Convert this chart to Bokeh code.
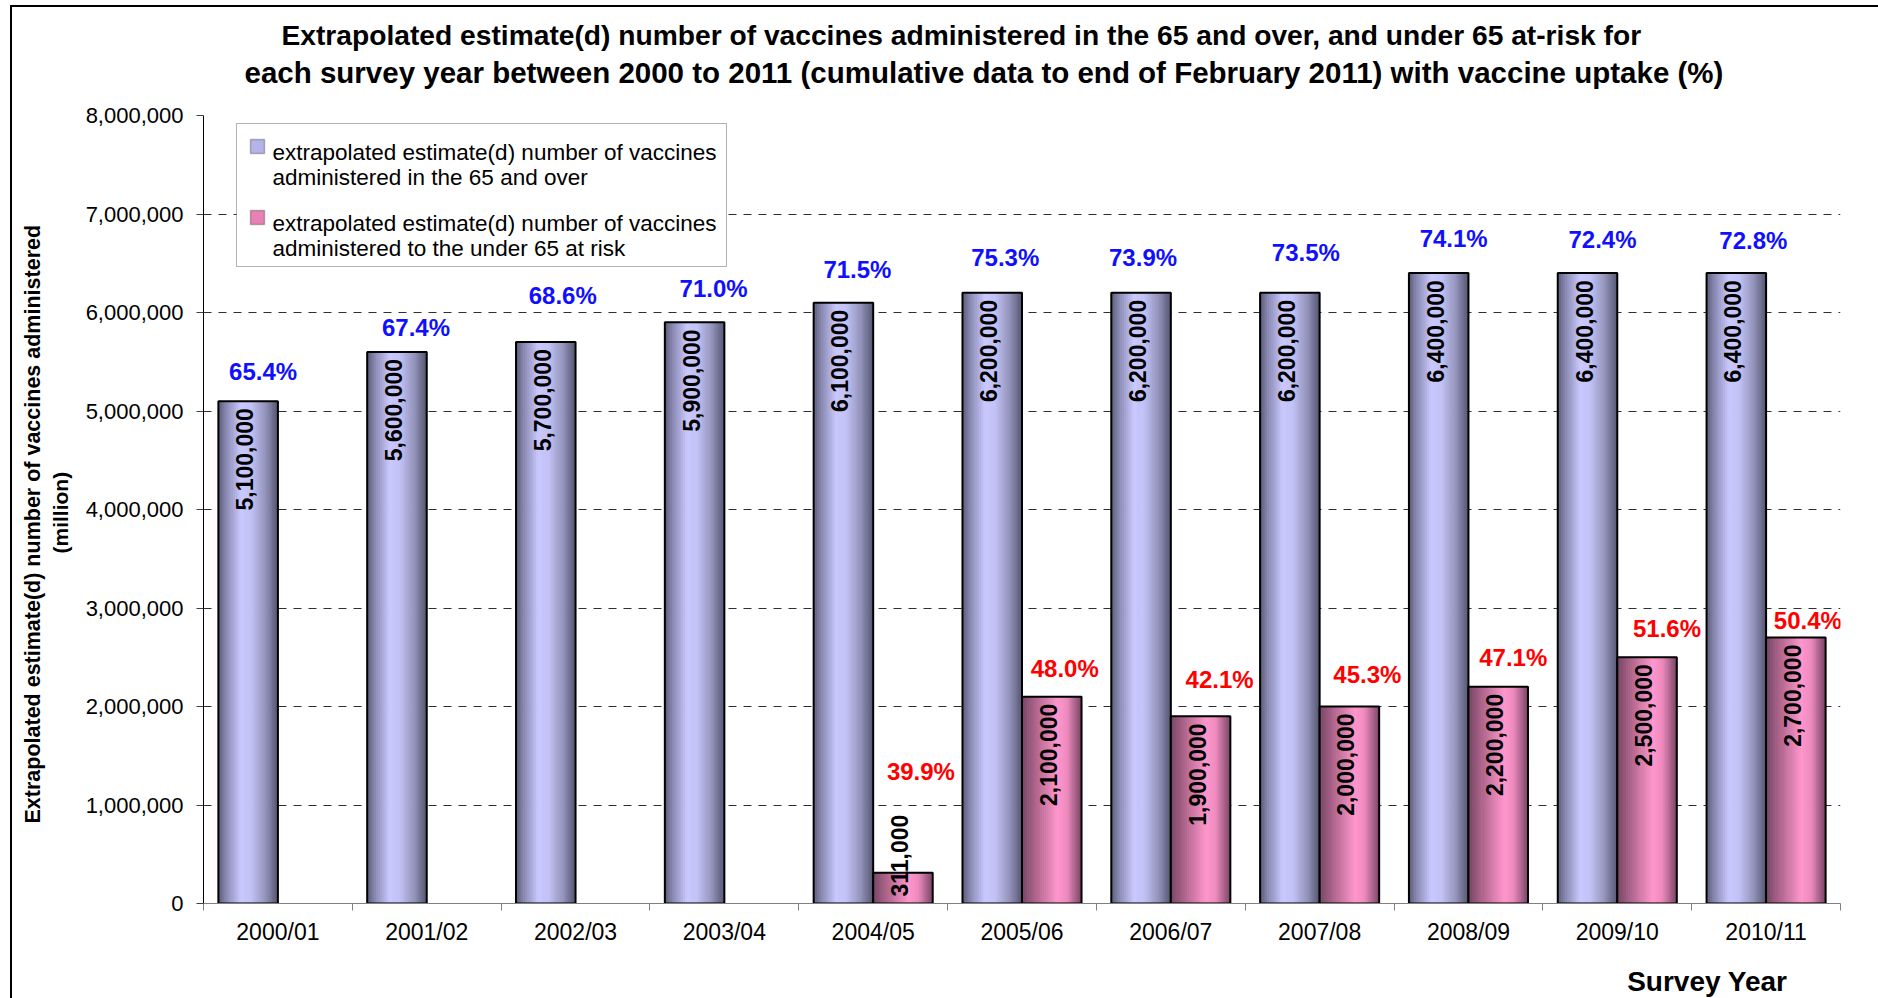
import math

from bokeh.core.properties import value
from bokeh.embed import file_html
from bokeh.models import (BoxAnnotation, ColumnDataSource, CustomJSTickFormatter,
                          FixedTicker, Label, LabelSet, NumeralTickFormatter, Range1d,
                          Title)
from bokeh.plotting import figure
from bokeh.resources import INLINE

# ---- data -------------------------------------------------------------
years = ["2000/01", "2001/02", "2002/03", "2003/04", "2004/05", "2005/06",
         "2006/07", "2007/08", "2008/09", "2009/10", "2010/11"]
over65_doses = [5100000, 5600000, 5700000, 5900000, 6100000, 6200000,
                6200000, 6200000, 6400000, 6400000, 6400000]
under65_doses = [None, None, None, None, 311000, 2100000,
                 1900000, 2000000, 2200000, 2500000, 2700000]
over65_uptake = [65.4, 67.4, 68.6, 71.0, 71.5, 75.3, 73.9, 73.5, 74.1, 72.4, 72.8]
under65_uptake = [None, None, None, None, 39.9, 48.0, 42.1, 45.3, 47.1, 51.6, 50.4]

# hand placement of the uptake call-outs (pixels right of / above the bar top)
over65_pct_shift = [15, 19, 17, 19, 14, 13, 2, 16, 15, 15, 17]
over65_pct_lift = [30, 24, 47, 34, 33, 35, 35, 40, 35, 34, 33]
under65_pct_shift = [None, None, None, None, 18, 13, 19, 18, 15, 20, 12]
under65_pct_lift = [None, None, None, None, 101, 28, 37, 32, 29, 29, 17]

# ---- geometry ---------------------------------------------------------
W, H = 1878, 998
LEFT, RIGHT, TOP, BOTTOM = 203, 1840, 115, 903
YMAX = 8_000_000
n = len(years)
PX_X = (RIGHT - LEFT) / n          # pixels per category
PX_Y = (BOTTOM - TOP) / YMAX       # pixels per vaccine


def cx(px):
    return (px - LEFT) / PX_X


def cy(py):
    return (BOTTOM - py) / PX_Y


FONT = "Liberation Sans"
BAR_W = 0.4
STRIPS = 32

blue_stops = [(0.0, (0x58, 0x58, 0x76)), (0.12, (0x84, 0x84, 0xac)),
              (0.38, (0xc8, 0xc8, 0xfe)), (0.55, (0xc2, 0xc2, 0xf6)),
              (0.8, (0x92, 0x92, 0xba)), (1.0, (0x56, 0x56, 0x72))]
pink_stops = [(0.0, (0x74, 0x46, 0x64)), (0.2, (0xa6, 0x60, 0x86)),
              (0.6, (0xff, 0x96, 0xcc)), (0.76, (0xee, 0x8a, 0xbe)),
              (1.0, (0x7a, 0x46, 0x66))]


def shade(stops, t):
    for (t0, c0), (t1, c1) in zip(stops, stops[1:]):
        if t0 <= t <= t1:
            f = (t - t0) / (t1 - t0)
            rgb = [round(a + (b - a) * f) for a, b in zip(c0, c1)]
            return "#%02x%02x%02x" % tuple(rgb)
    return "#%02x%02x%02x" % stops[-1][1]


p = figure(width=W, height=H, title=None, output_backend="svg",
           toolbar_location=None, x_range=Range1d(0, n), y_range=Range1d(0, YMAX),
           min_border_left=LEFT, min_border_right=W - RIGHT,
           min_border_top=TOP, min_border_bottom=H - BOTTOM)
p.outline_line_color = None
p.background_fill_color = "white"
# transparent margins so the page's thin chart border shows round the plot
p.border_fill_color = None
p.styles = {
    "background": ("linear-gradient(#000, #000) 10px 5px / 2px 100% no-repeat, "
                   "linear-gradient(#000, #000) 10px 5px / 100% 2px no-repeat, #fff"),
}

# ---- axes -------------------------------------------------------------
p.xaxis.ticker = FixedTicker(ticks=[i + 0.5 for i in range(n)],
                             minor_ticks=list(range(n + 1)))
p.xaxis.formatter = CustomJSTickFormatter(
    args=dict(labels=years),
    code="const i = Math.round(tick - 0.5); return (i >= 0 && i < labels.length) ? labels[i] : '';")
p.xaxis.major_tick_in = 0
p.xaxis.major_tick_out = 0
p.xaxis.minor_tick_in = 0
p.xaxis.minor_tick_out = 7
p.xaxis.minor_tick_line_color = "#808080"
p.xaxis.axis_line_color = "#808080"
p.xaxis.major_label_standoff = 8
p.xaxis.major_label_text_font = FONT
p.xaxis.major_label_text_font_size = "23px"
p.xaxis.major_label_text_color = "black"

p.yaxis.ticker = FixedTicker(ticks=list(range(0, YMAX + 1, 1_000_000)))
p.yaxis.formatter = NumeralTickFormatter(format="0,0")
p.yaxis.major_tick_in = 0
p.yaxis.major_tick_out = 7
p.yaxis.minor_tick_out = 0
p.yaxis.axis_line_color = "black"
p.yaxis.major_tick_line_color = "#404040"
p.yaxis.major_label_standoff = 13
p.yaxis.major_label_text_font = FONT
p.yaxis.major_label_text_font_size = "22px"
p.yaxis.major_label_text_color = "black"

p.xgrid.visible = False
p.ygrid.grid_line_color = "#303030"
p.ygrid.grid_line_dash = "8 7"
p.ygrid.grid_line_width = 1

# ---- bars (shaded with thin vertical strips, then outlined) -----------
series = [(over65_doses, 0.3, blue_stops), (under65_doses, 0.7, pink_stops)]
for doses, centre, stops in series:
    idx = [i for i, v in enumerate(doses) if v is not None]
    tops = [doses[i] for i in idx]
    for k in range(STRIPS):
        t = (k + 0.5) / STRIPS
        xs = [i + centre - BAR_W / 2 + t * BAR_W for i in idx]
        p.vbar(x=xs, top=tops, bottom=0, width=BAR_W / STRIPS * 1.35,
               fill_color=shade(stops, t), line_color=None)
    p.vbar(x=[i + centre for i in idx], top=tops, bottom=0, width=BAR_W,
           fill_color=None, line_color="black", line_width=2)

    # value written up the bar, just under its top (or from the base when short)
    pad = 7 / PX_Y
    text_len = 112 / PX_Y
    hi = dict(x=[], y=[], t=[])
    lo = dict(x=[], y=[], t=[])
    for i in idx:
        v = doses[i]
        tgt = hi if v - 2 * pad > text_len else lo
        tgt["x"].append(i + centre - 3.5 / PX_X)
        tgt["y"].append(v - pad if tgt is hi else pad)
        tgt["t"].append(f"{v:,}")
    for src, align in ((hi, "right"), (lo, "left")):
        if src["x"]:
            p.text(x=src["x"], y=src["y"], text=src["t"], angle=math.pi / 2,
                   text_align=align, text_baseline="middle",
                   text_font=value(FONT), text_font_style="bold",
                   text_font_size="23px", text_color="black")

# ---- uptake call-outs --------------------------------------------------
for doses, uptake, shift, lift, centre, colour in (
        (over65_doses, over65_uptake, over65_pct_shift, over65_pct_lift, 0.3, "#1010ff"),
        (under65_doses, under65_uptake, under65_pct_shift, under65_pct_lift, 0.7, "#ff0000")):
    idx = [i for i, u in enumerate(uptake) if u is not None]
    src = ColumnDataSource(dict(
        x=[i + centre + shift[i] / PX_X for i in idx],
        y=[doses[i] + lift[i] / PX_Y for i in idx],
        t=[f"{uptake[i]:.1f}%" for i in idx]))
    p.add_layout(LabelSet(x="x", y="y", text="t", source=src,
                          text_align="center", text_baseline="middle",
                          text_font=value(FONT), text_font_style="bold",
                          text_font_size="24px", text_color=colour))

# ---- legend box --------------------------------------------------------
p.add_layout(BoxAnnotation(left=cx(236), right=cx(726), top=cy(123), bottom=cy(266),
                           fill_color="white", fill_alpha=1.0,
                           line_color="black", line_width=1, level="annotation"))
legend_rows = [
    ("#b4b4e8", 139, ["extrapolated estimate(d) number of vaccines",
                      "administered in the 65 and over"]),
    ("#e882b4", 210, ["extrapolated estimate(d) number of vaccines",
                      "administered to the under 65 at risk"]),
]
for swatch, top_px, lines in legend_rows:
    p.add_layout(BoxAnnotation(left=cx(250), right=cx(264), top=cy(top_px),
                               bottom=cy(top_px + 14), fill_color=swatch, fill_alpha=1.0,
                               line_color="#202020", line_width=1.5, level="annotation"))
    for j, line in enumerate(lines):
        p.add_layout(Label(x=cx(272), y=cy(top_px + 13 + 25 * j), text=line,
                           text_align="left", text_baseline="alphabetic",
                           text_font=FONT, text_font_size="22.5px", text_color="black"))


# ---- titles (stacked outward from the frame) ---------------------------
def spacer(gap):
    return Title(text=" ", text_font_size="1px", standoff=max(gap - 3, 0))


def heading(text, size, standoff, **kw):
    return Title(text=text, text_font=FONT, text_font_style="bold",
                 text_font_size=size, text_color="black", standoff=standoff, **kw)


p.add_layout(spacer(27), "above")
p.add_layout(heading("each survey year between 2000 to 2011 (cumulative data to end of "
                     "February 2011) with vaccine uptake (%)", "29.5px", 0,
                     align="left", offset=41), "above")
p.add_layout(heading("Extrapolated estimate(d) number of vaccines administered in the 65 "
                     "and over, and under 65 at-risk for", "28.2px", 5,
                     align="left", offset=78), "above")

p.add_layout(spacer(11), "left")
p.add_layout(heading("(million)", "21px", 0, align="left", offset=350), "left")
p.add_layout(heading("Extrapolated estimate(d) number of vaccines administered", "21.5px", 4,
                     align="left", offset=80), "left")

p.add_layout(spacer(18), "below")
p.add_layout(heading("Survey Year", "28px", 0, align="right", offset=53,
                     vertical_align="top"), "below")

open("out.html", "w").write(file_html(p, INLINE))
